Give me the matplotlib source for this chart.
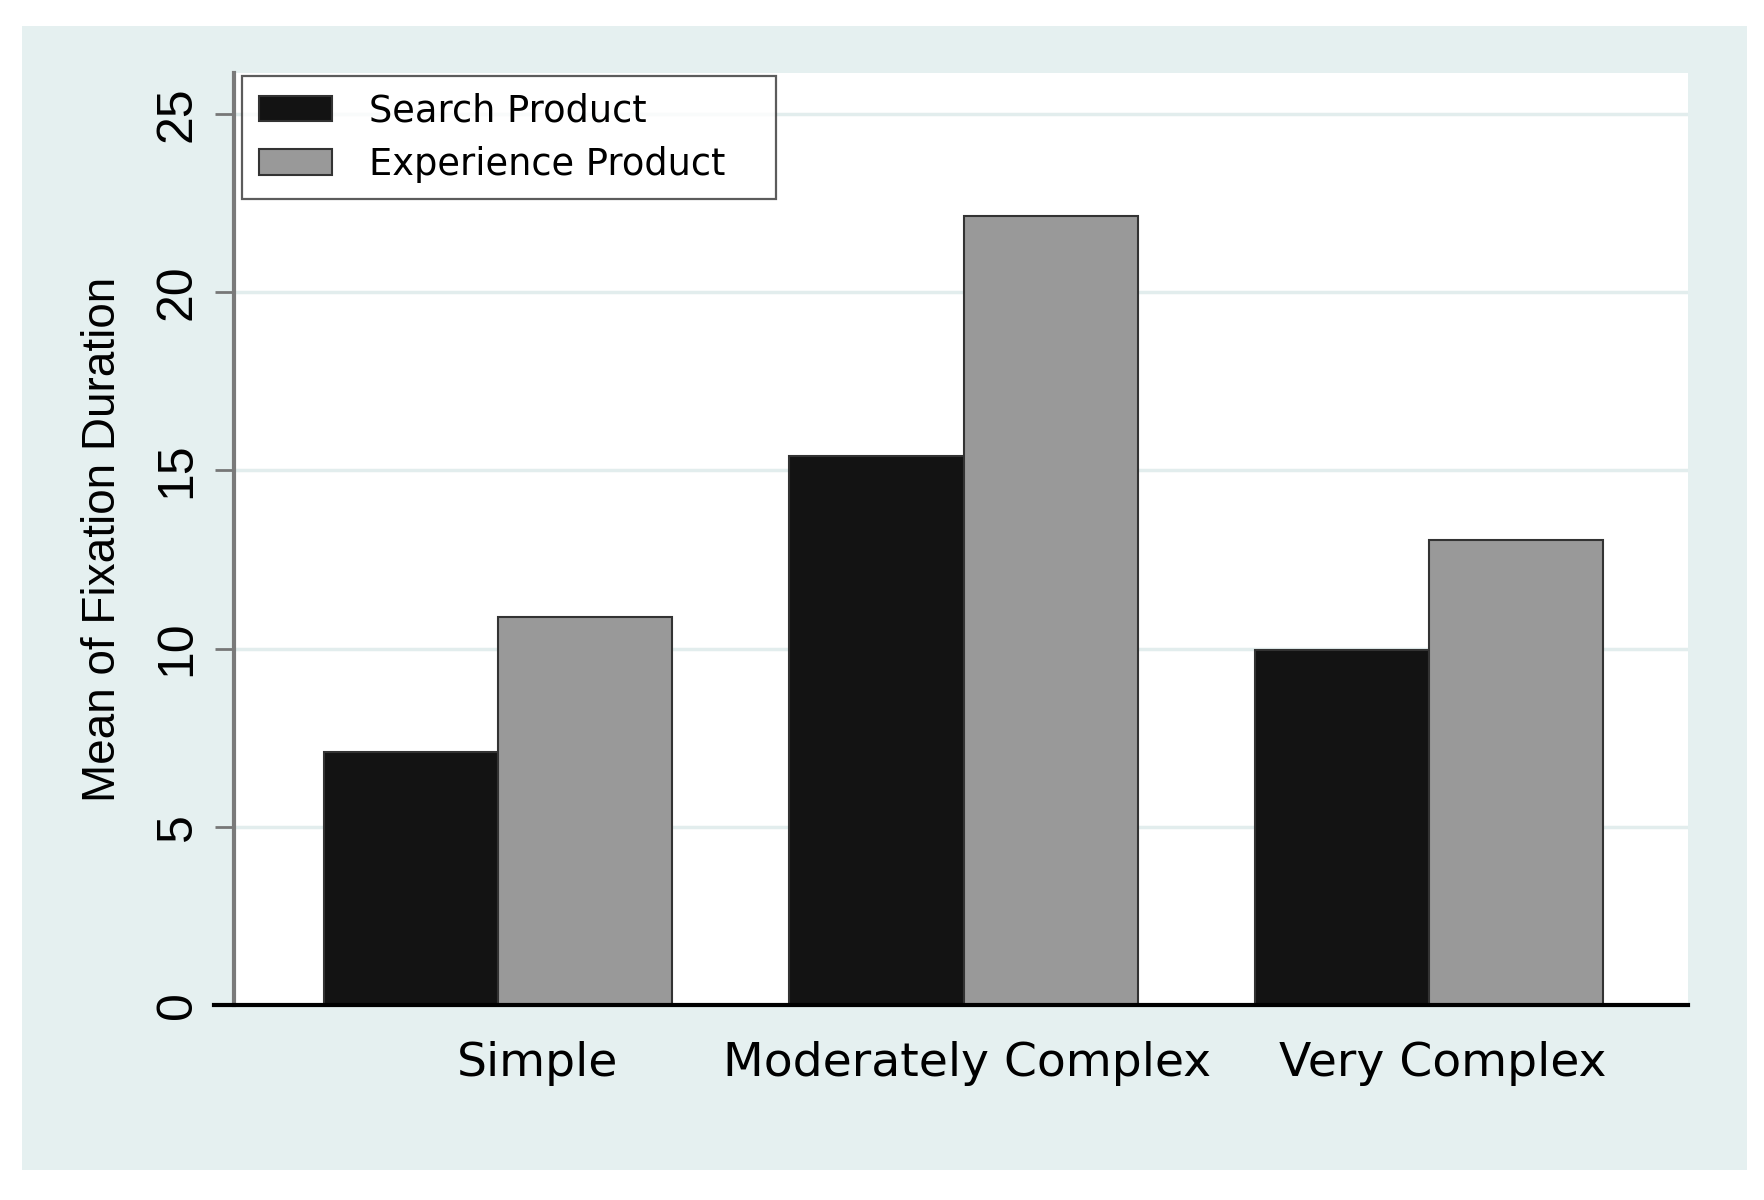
import matplotlib
matplotlib.use("Agg")
import matplotlib.pyplot as plt
from matplotlib.patches import Rectangle
import numpy as np

# Data
categories = ["Simple", "Moderately Complex", "Very Complex"]
search_product = [7.1, 15.4, 9.95]
experience_product = [10.9, 22.15, 13.05]
series_names = ["Search Product", "Experience Product"]
yticks = [0, 5, 10, 15, 20, 25]

teal = "#e5f0f0"
fig = plt.figure(figsize=(17.64, 12), dpi=100)
fig.patch.set_facecolor("white")
fig.patches.append(Rectangle((22 / 1764, 1 - 1170 / 1200), (1747 - 22) / 1764, (1170 - 26) / 1200,
                             transform=fig.transFigure, facecolor=teal, edgecolor="none", zorder=-10))

ax = fig.add_axes([234 / 1764, 1 - 1005 / 1200, 1454 / 1764, 932 / 1200])
ax.set_facecolor("white")

x = np.arange(len(categories))
w = 0.374
ax.bar(x - w / 2, search_product, w, color="#131313", edgecolor="#333333", linewidth=1.5,
       label=series_names[0], zorder=3)
ax.bar(x + w / 2, experience_product, w, color="#999999", edgecolor="#333333", linewidth=1.5,
       label=series_names[1], zorder=3)

ax.set_xlim(-0.567, 2.556)
ax.set_ylim(0, 26.15)

# grid
for t in yticks[1:]:
    ax.axhline(t, color="#e2eded", linewidth=2.5, zorder=1)

# spines
ax.spines["top"].set_visible(False)
ax.spines["right"].set_visible(False)
ax.spines["bottom"].set_visible(False)
ax.spines["left"].set_color("#7a7a7a")
ax.spines["left"].set_linewidth(3)
ax.axhline(0, xmin=-0.014, xmax=1, color="black", linewidth=3, clip_on=False, zorder=5)

# y ticks
ax.set_yticks(yticks)
ax.set_yticklabels([str(t) for t in yticks], rotation=90, va="center",
                   family=["Liberation Sans", "DejaVu Sans"], fontsize=36)
ax.tick_params(axis="y", length=14, width=2, color="#777777", pad=10)

# x labels (Stata places them slightly off the group centres)
ax.set_xticks([0.085, 1.007, 2.03])
ax.set_xticklabels(categories, fontsize=34)
ax.tick_params(axis="x", length=0, pad=26)

ax.set_ylabel("Mean of Fixation Duration", fontsize=33, family=["Liberation Sans", "DejaVu Sans"],
              va="center")
ax.yaxis.set_label_coords(-0.09, 0.5)

leg = ax.legend(loc="upper left", bbox_to_anchor=(0.0055, 0.997, 0.367, 0.0), mode="expand",
                borderaxespad=0, fontsize=26.5, fancybox=False, frameon=True,
                handlelength=2.0, handleheight=0.7, handletextpad=1.0, labelspacing=0.45,
                borderpad=0.45)
leg.get_frame().set_edgecolor("#333333")
leg.get_frame().set_linewidth(1.6)
leg.set_zorder(6)

fig.savefig("out.png", dpi=100, facecolor="white")
